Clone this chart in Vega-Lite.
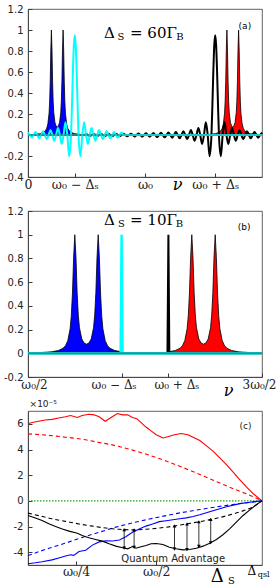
{
"$schema": "https://vega.github.io/schema/vega-lite/v6.json",
"padding": {"left": 3, "top": 3, "right": 0, "bottom": 0},
"bounds": "flush",
"spacing": 34,
"config": {
 "view": {"stroke": "#3a3a3a", "strokeWidth": 0.8},
 "axis": {"domainColor": "#3a3a3a", "domainWidth": 0.8, "tickColor": "#3a3a3a", "tickSize": -4, "labelColor": "#222", "labelFont": "DejaVu Sans", "labelFontSize": 10, "grid": false, "labelFlush": false, "labelOverlap": false, "labelBound": false},
 "axisY": {"labelPadding": 9},
 "axisX": {"labelPadding": 15.5, "labelBaseline": "alphabetic", "labelFont": "DejaVu Serif", "labelFontSize": 12.5}
},
"vconcat": [
{
 "width": 234, "height": 168,
 "encoding": {
  "x": {"field": "x", "type": "quantitative", "scale": {"domain": [0, 2], "nice": false},
   "axis": {"values": [0, 0.4, 1, 1.6], "labelExpr": "datum.value == 0 ? '0' : datum.value == 0.4 ? 'ω₀ − Δₛ' : datum.value == 1 ? 'ω₀' : 'ω₀ + Δₛ'",
    "title": "ν", "titleFont": "DejaVu Serif", "titleFontStyle": "italic", "titleFontWeight": "normal", "titleFontSize": 16, "titleX": 149, "titleY": 12, "titleBaseline": "alphabetic", "titleAlign": "center", "titleAnchor": null}},
  "y": {"field": "y", "type": "quantitative", "scale": {"domain": [-0.4, 1.2], "nice": false},
   "axis": {"values": [-0.4, -0.2, 0, 0.2, 0.4, 0.6, 0.8, 1, 1.2], "format": "~g", "labelExpr": "replace(datum.label, '−', '-')", "title": null}}
 },
 "layer": [
  {"data": {"values": [
   {"x":0.05,"y":0.006},{"x":0.1,"y":0.012},{"x":0.13,"y":0.024},{"x":0.15,"y":0.043},{"x":0.16,"y":0.064},{"x":0.17,"y":0.106},{"x":0.18,"y":0.207},{"x":0.185,"y":0.315},{"x":0.19,"y":0.508},{"x":0.195,"y":0.809},{"x":0.2,"y":1.0},{"x":0.205,"y":0.811},{"x":0.21,"y":0.512},{"x":0.215,"y":0.321},{"x":0.22,"y":0.215},{"x":0.23,"y":0.12},{"x":0.24,"y":0.086},{"x":0.25,"y":0.077},{"x":0.26,"y":0.086},{"x":0.27,"y":0.12},{"x":0.28,"y":0.215},{"x":0.285,"y":0.321},{"x":0.29,"y":0.512},{"x":0.295,"y":0.811},{"x":0.3,"y":1.0},{"x":0.305,"y":0.809},{"x":0.31,"y":0.508},{"x":0.315,"y":0.315},{"x":0.32,"y":0.207},{"x":0.33,"y":0.106},{"x":0.34,"y":0.064},{"x":0.35,"y":0.043},{"x":0.37,"y":0.024},{"x":0.4,"y":0.012},{"x":0.45,"y":0.006}]},
   "mark": {"type": "area", "color": "#0000ff", "opacity": 1, "line": {"color": "black", "strokeWidth": 0.8}}},
  {"data": {"values": [
   {"x":1.55,"y":0.006},{"x":1.6,"y":0.012},{"x":1.63,"y":0.024},{"x":1.65,"y":0.043},{"x":1.66,"y":0.064},{"x":1.67,"y":0.106},{"x":1.68,"y":0.207},{"x":1.685,"y":0.315},{"x":1.69,"y":0.508},{"x":1.695,"y":0.809},{"x":1.7,"y":1.0},{"x":1.705,"y":0.811},{"x":1.71,"y":0.512},{"x":1.715,"y":0.321},{"x":1.72,"y":0.215},{"x":1.73,"y":0.12},{"x":1.74,"y":0.086},{"x":1.75,"y":0.077},{"x":1.76,"y":0.086},{"x":1.77,"y":0.12},{"x":1.78,"y":0.215},{"x":1.785,"y":0.321},{"x":1.79,"y":0.512},{"x":1.795,"y":0.811},{"x":1.8,"y":1.0},{"x":1.805,"y":0.809},{"x":1.81,"y":0.508},{"x":1.815,"y":0.315},{"x":1.82,"y":0.207},{"x":1.83,"y":0.106},{"x":1.84,"y":0.064},{"x":1.85,"y":0.043},{"x":1.87,"y":0.024},{"x":1.9,"y":0.012},{"x":1.95,"y":0.006},{"x":2.0,"y":0.004}]},
   "mark": {"type": "area", "color": "#ff0000", "opacity": 1, "line": {"color": "black", "strokeWidth": 0.8}}},
  {"data": {"values": [
   {"x":0,"y":0},{"x":0.48,"y":0},
   {"x":0.496,"y":0.009},{"x":0.512,"y":0},{"x":0.528,"y":-0.009},{"x":0.544,"y":0},{"x":0.56,"y":0.009},{"x":0.576,"y":0},{"x":0.592,"y":-0.01},{"x":0.608,"y":0},{"x":0.624,"y":0.01},{"x":0.64,"y":0},{"x":0.656,"y":-0.01},{"x":0.672,"y":0},{"x":0.688,"y":0.011},{"x":0.704,"y":0},{"x":0.72,"y":-0.011},{"x":0.736,"y":0},{"x":0.752,"y":0.011},{"x":0.768,"y":0},{"x":0.784,"y":-0.012},{"x":0.8,"y":0},{"x":0.816,"y":0.012},{"x":0.832,"y":0},{"x":0.848,"y":-0.013},{"x":0.864,"y":0},{"x":0.88,"y":0.013},{"x":0.896,"y":0},{"x":0.912,"y":-0.014},{"x":0.928,"y":0},{"x":0.944,"y":0.015},{"x":0.96,"y":0},{"x":0.976,"y":-0.016},{"x":0.992,"y":0},{"x":1.008,"y":0.016},{"x":1.024,"y":0},{"x":1.04,"y":-0.017},{"x":1.056,"y":0},{"x":1.072,"y":0.018},{"x":1.088,"y":0},{"x":1.104,"y":-0.02},{"x":1.12,"y":0},{"x":1.136,"y":0.021},{"x":1.152,"y":0},{"x":1.168,"y":-0.022},{"x":1.184,"y":0},{"x":1.2,"y":0.024},{"x":1.216,"y":0},{"x":1.232,"y":-0.026},{"x":1.248,"y":0},{"x":1.264,"y":0.029},{"x":1.28,"y":0},{"x":1.296,"y":-0.032},{"x":1.312,"y":0},{"x":1.328,"y":0.036},{"x":1.344,"y":0},{"x":1.36,"y":-0.04},{"x":1.376,"y":0},{"x":1.392,"y":0.047},{"x":1.408,"y":0},{"x":1.424,"y":-0.055},{"x":1.44,"y":0},{"x":1.456,"y":0.067},{"x":1.472,"y":0},{"x":1.488,"y":-0.086},{"x":1.504,"y":0},{"x":1.52,"y":0.121},{"x":1.536,"y":0},{"x":1.552,"y":-0.202},{"x":1.568,"y":0},{"x":1.576,"y":0.285},{"x":1.584,"y":0.605},{"x":1.592,"y":0.855},{"x":1.6,"y":0.95},{"x":1.608,"y":0.855},{"x":1.616,"y":0.605},{"x":1.624,"y":0.285},{"x":1.632,"y":0},{"x":1.648,"y":-0.202},{"x":1.664,"y":0},{"x":1.68,"y":0.121},{"x":1.696,"y":0},{"x":1.712,"y":-0.086},{"x":1.728,"y":0},{"x":1.744,"y":0.067},{"x":1.76,"y":0},{"x":1.776,"y":-0.055},{"x":1.792,"y":0},{"x":1.808,"y":0.047},{"x":1.824,"y":0},{"x":1.84,"y":-0.04},{"x":1.856,"y":0},{"x":1.872,"y":0.036},{"x":1.888,"y":0},{"x":1.904,"y":-0.032},{"x":1.92,"y":0},{"x":1.936,"y":0.029},{"x":1.952,"y":0},{"x":1.968,"y":-0.026},{"x":1.984,"y":0},{"x":2.0,"y":0.024}]},
   "mark": {"type": "line", "color": "black", "strokeWidth": 2, "interpolate": "monotone"}},
  {"data": {"values": [
   {"x":0.0,"y":0.024},{"x":0.016,"y":0},{"x":0.032,"y":-0.026},{"x":0.048,"y":0},{"x":0.064,"y":0.029},{"x":0.08,"y":0},{"x":0.096,"y":-0.032},{"x":0.112,"y":0},{"x":0.128,"y":0.036},{"x":0.144,"y":0},{"x":0.16,"y":-0.04},{"x":0.176,"y":0},{"x":0.192,"y":0.047},{"x":0.208,"y":0},{"x":0.224,"y":-0.055},{"x":0.24,"y":0},{"x":0.256,"y":0.067},{"x":0.272,"y":0},{"x":0.288,"y":-0.086},{"x":0.304,"y":0},{"x":0.32,"y":0.121},{"x":0.336,"y":0},{"x":0.352,"y":-0.202},{"x":0.368,"y":0},{"x":0.376,"y":0.285},{"x":0.384,"y":0.605},{"x":0.392,"y":0.855},{"x":0.4,"y":0.95},{"x":0.408,"y":0.855},{"x":0.416,"y":0.605},{"x":0.424,"y":0.285},{"x":0.432,"y":0},{"x":0.448,"y":-0.202},{"x":0.464,"y":0},{"x":0.48,"y":0.121},{"x":0.496,"y":0},{"x":0.512,"y":-0.086},{"x":0.528,"y":0},{"x":0.544,"y":0.067},{"x":0.56,"y":0},{"x":0.576,"y":-0.055},{"x":0.592,"y":0},{"x":0.608,"y":0.047},{"x":0.624,"y":0},{"x":0.64,"y":-0.04},{"x":0.656,"y":0},{"x":0.672,"y":0.036},{"x":0.688,"y":0},{"x":0.704,"y":-0.032},{"x":0.72,"y":0},{"x":0.736,"y":0.029},{"x":0.752,"y":0},{"x":0.768,"y":-0.026},{"x":0.784,"y":0},{"x":0.8,"y":0.024},{"x":0.816,"y":0},{"x":2.0,"y":0}]},
   "mark": {"type": "line", "color": "#00ffff", "strokeWidth": 2, "interpolate": "monotone"}},
  {"data": {"values": [{"x": 0, "x2": 2, "y": 0}]},
   "mark": {"type": "rule", "color": "#26b0b0", "strokeWidth": 1.6},
   "encoding": {"x2": {"field": "x2"}}},
  {"data": {"values": [{"x": 0.65, "y": 0.921, "t": "Δ"}, {"x": 0.872, "y": 0.921, "t": "= 60Γ"}]},
   "mark": {"type": "text", "font": "DejaVu Serif", "fontSize": 15, "align": "left", "baseline": "alphabetic", "color": "black"},
   "encoding": {"text": {"field": "t"}}},
  {"data": {"values": [{"x": 0.764, "y": 0.905, "t": "S"}, {"x": 1.268, "y": 0.905, "t": "B"}]},
   "mark": {"type": "text", "font": "DejaVu Serif", "fontSize": 10, "align": "left", "baseline": "alphabetic", "color": "black"},
   "encoding": {"text": {"field": "t"}}},
  {"data": {"values": [{"x": 1.8, "y": 1.01, "t": "(a)"}]},
   "mark": {"type": "text", "font": "DejaVu Sans", "fontSize": 9, "align": "left", "baseline": "alphabetic", "color": "black"},
   "encoding": {"text": {"field": "t"}}}
 ]
},
{
 "width": 234, "height": 166,
 "encoding": {
  "x": {"field": "x", "type": "quantitative", "scale": {"domain": [0.5, 1.5], "nice": false},
   "axis": {"values": [0.5, 0.9, 1.1, 1.5], "labelExpr": "datum.value == 0.5 ? 'ω₀/2' : datum.value == 0.9 ? 'ω₀ − Δₛ' : datum.value == 1.1 ? 'ω₀ + Δₛ' : '3ω₀/2'",
    "labelFontSize": 12,
    "labelOffset": {"condition": [{"test": "datum.value == 0.9", "value": -8}, {"test": "datum.value == 1.1", "value": 8}, {"test": "datum.value == 0.5", "value": 6}, {"test": "datum.value == 1.5", "value": -3}], "value": 0},
    "title": "ν", "titleFont": "DejaVu Serif", "titleFontStyle": "italic", "titleFontWeight": "normal", "titleFontSize": 16, "titleX": 200, "titleY": 18, "titleBaseline": "alphabetic", "titleAlign": "center", "titleAnchor": null}},
  "y": {"field": "y", "type": "quantitative", "scale": {"domain": [-0.2, 1.2], "nice": false},
   "axis": {"values": [-0.2, 0, 0.2, 0.4, 0.6, 0.8, 1, 1.2], "format": "~g", "labelExpr": "replace(datum.label, '−', '-')", "title": null}}
 },
 "layer": [
  {"data": {"values": [
   {"x":0.5,"y":0.004},{"x":0.55,"y":0.006},{"x":0.6,"y":0.012},{"x":0.63,"y":0.024},{"x":0.65,"y":0.043},{"x":0.66,"y":0.064},{"x":0.67,"y":0.106},{"x":0.68,"y":0.207},{"x":0.685,"y":0.315},{"x":0.69,"y":0.508},{"x":0.695,"y":0.809},{"x":0.7,"y":1.0},{"x":0.705,"y":0.811},{"x":0.71,"y":0.512},{"x":0.715,"y":0.321},{"x":0.72,"y":0.215},{"x":0.73,"y":0.12},{"x":0.74,"y":0.086},{"x":0.75,"y":0.077},{"x":0.76,"y":0.086},{"x":0.77,"y":0.12},{"x":0.78,"y":0.215},{"x":0.785,"y":0.321},{"x":0.79,"y":0.512},{"x":0.795,"y":0.811},{"x":0.8,"y":1.0},{"x":0.805,"y":0.809},{"x":0.81,"y":0.508},{"x":0.815,"y":0.315},{"x":0.82,"y":0.207},{"x":0.83,"y":0.106},{"x":0.84,"y":0.064},{"x":0.85,"y":0.043},{"x":0.87,"y":0.024},{"x":0.9,"y":0.012}]},
   "mark": {"type": "area", "color": "#0000ff", "opacity": 1, "line": {"color": "black", "strokeWidth": 0.8}}},
  {"data": {"values": [
   {"x":1.1,"y":0.012},{"x":1.13,"y":0.024},{"x":1.15,"y":0.043},{"x":1.16,"y":0.064},{"x":1.17,"y":0.106},{"x":1.18,"y":0.207},{"x":1.185,"y":0.315},{"x":1.19,"y":0.508},{"x":1.195,"y":0.809},{"x":1.2,"y":1.0},{"x":1.205,"y":0.811},{"x":1.21,"y":0.512},{"x":1.215,"y":0.321},{"x":1.22,"y":0.215},{"x":1.23,"y":0.12},{"x":1.24,"y":0.086},{"x":1.25,"y":0.077},{"x":1.26,"y":0.086},{"x":1.27,"y":0.12},{"x":1.28,"y":0.215},{"x":1.285,"y":0.321},{"x":1.29,"y":0.512},{"x":1.295,"y":0.811},{"x":1.3,"y":1.0},{"x":1.305,"y":0.809},{"x":1.31,"y":0.508},{"x":1.315,"y":0.315},{"x":1.32,"y":0.207},{"x":1.33,"y":0.106},{"x":1.34,"y":0.064},{"x":1.35,"y":0.043},{"x":1.37,"y":0.024},{"x":1.4,"y":0.012},{"x":1.45,"y":0.006},{"x":1.5,"y":0.004}]},
   "mark": {"type": "area", "color": "#ff0000", "opacity": 1, "line": {"color": "black", "strokeWidth": 0.8}}},
  {"data": {"values": [{"x":0.5,"y":0},{"x":1.096,"y":0},{"x":1.1,"y":1.0},{"x":1.104,"y":0},{"x":1.5,"y":0}]},
   "mark": {"type": "line", "color": "black", "strokeWidth": 2}},
  {"data": {"values": [{"x":0.5,"y":0},{"x":0.896,"y":0},{"x":0.9,"y":1.0},{"x":0.904,"y":0},{"x":1.5,"y":0}]},
   "mark": {"type": "line", "color": "#00ffff", "strokeWidth": 2.5}},
  {"data": {"values": [{"x": 0.5, "x2": 1.5, "y": 0}]},
   "mark": {"type": "rule", "color": "#129a9a", "strokeWidth": 2},
   "encoding": {"x2": {"field": "x2"}}},
  {"data": {"values": [{"x": 0.825, "y": 1.082, "t": "Δ"}, {"x": 0.936, "y": 1.082, "t": "= 10Γ"}]},
   "mark": {"type": "text", "font": "DejaVu Serif", "fontSize": 15, "align": "left", "baseline": "alphabetic", "color": "black"},
   "encoding": {"text": {"field": "t"}}},
  {"data": {"values": [{"x": 0.885, "y": 1.061, "t": "S"}, {"x": 1.131, "y": 1.061, "t": "B"}]},
   "mark": {"type": "text", "font": "DejaVu Serif", "fontSize": 10, "align": "left", "baseline": "alphabetic", "color": "black"},
   "encoding": {"text": {"field": "t"}}},
  {"data": {"values": [{"x": 1.396, "y": 1.04, "t": "(b)"}]},
   "mark": {"type": "text", "font": "DejaVu Sans", "fontSize": 9, "align": "left", "baseline": "alphabetic", "color": "black"},
   "encoding": {"text": {"field": "t"}}}
 ]
},
{
 "width": 234, "height": 154,
 "encoding": {
  "x": {"field": "x", "type": "quantitative", "scale": {"domain": [0.1, 0.83], "nice": false},
   "axis": {"values": [0.25, 0.5], "labelExpr": "datum.value == 0.25 ? 'ω₀/4' : 'ω₀/2'", "labelPadding": 14.5, "title": null}},
  "y": {"field": "y", "type": "quantitative", "scale": {"domain": [-5, 7], "nice": false},
   "axis": {"values": [-4, -2, 0, 2, 4, 6], "format": "~g", "labelExpr": "replace(datum.label, '−', '-')", "title": null}}
 },
 "layer": [
  {"data": {"values": [{"x":0.1,"y":0},{"x":0.83,"y":0}]},
   "mark": {"type": "line", "color": "#22a022", "strokeWidth": 1.3, "strokeDash": [1.5, 1.5]}},
  {"data": {"values": [{"x":0.1,"y":5.22},{"x":0.165,"y":5.1},{"x":0.217,"y":4.96},{"x":0.269,"y":4.8},{"x":0.322,"y":4.55},{"x":0.374,"y":4.3},{"x":0.426,"y":3.95},{"x":0.479,"y":3.55},{"x":0.531,"y":3.1},{"x":0.583,"y":2.6},{"x":0.636,"y":2.05},{"x":0.688,"y":1.5},{"x":0.74,"y":0.95},{"x":0.793,"y":0.42},{"x":0.83,"y":0}]},
   "mark": {"type": "line", "color": "#ff0000", "strokeWidth": 1.1, "strokeDash": [4, 3], "interpolate": "monotone"}},
  {"data": {"values": [{"x":0.1,"y":6.0},{"x":0.113,"y":6.1},{"x":0.133,"y":6.2},{"x":0.154,"y":6.3},{"x":0.175,"y":6.35},{"x":0.196,"y":6.45},{"x":0.217,"y":6.55},{"x":0.233,"y":6.65},{"x":0.254,"y":6.5},{"x":0.269,"y":6.65},{"x":0.29,"y":6.75},{"x":0.306,"y":6.7},{"x":0.322,"y":6.55},{"x":0.341,"y":6.2},{"x":0.353,"y":6.4},{"x":0.369,"y":6.65},{"x":0.379,"y":6.8},{"x":0.395,"y":6.7},{"x":0.411,"y":6.7},{"x":0.426,"y":6.5},{"x":0.439,"y":6.4},{"x":0.453,"y":6.1},{"x":0.468,"y":5.75},{"x":0.484,"y":5.45},{"x":0.5,"y":5.15},{"x":0.521,"y":4.9},{"x":0.536,"y":5.0},{"x":0.557,"y":5.15},{"x":0.578,"y":5.25},{"x":0.599,"y":5.15},{"x":0.615,"y":4.95},{"x":0.636,"y":4.7},{"x":0.656,"y":4.3},{"x":0.677,"y":3.87},{"x":0.698,"y":3.35},{"x":0.719,"y":2.83},{"x":0.74,"y":2.23},{"x":0.761,"y":1.64},{"x":0.782,"y":1.06},{"x":0.803,"y":0.55},{"x":0.83,"y":0}]},
   "mark": {"type": "line", "color": "#ff0000", "strokeWidth": 1.1}},
  {"data": {"values": [{"x":0.1,"y":-4.26},{"x":0.165,"y":-3.7},{"x":0.217,"y":-3.3},{"x":0.269,"y":-2.85},{"x":0.322,"y":-2.45},{"x":0.374,"y":-2.05},{"x":0.426,"y":-1.72},{"x":0.479,"y":-1.42},{"x":0.531,"y":-1.15},{"x":0.583,"y":-0.9},{"x":0.636,"y":-0.68},{"x":0.688,"y":-0.47},{"x":0.74,"y":-0.28},{"x":0.793,"y":-0.12},{"x":0.83,"y":0}]},
   "mark": {"type": "line", "color": "#0000ff", "strokeWidth": 1.1, "strokeDash": [4, 3], "interpolate": "monotone"}},
  {"data": {"values": [{"x":0.1,"y":-4.9},{"x":0.123,"y":-4.83},{"x":0.144,"y":-4.75},{"x":0.175,"y":-4.6},{"x":0.196,"y":-4.45},{"x":0.217,"y":-4.3},{"x":0.233,"y":-4.2},{"x":0.243,"y":-4.25},{"x":0.259,"y":-3.95},{"x":0.28,"y":-3.85},{"x":0.301,"y":-3.45},{"x":0.322,"y":-3.2},{"x":0.343,"y":-3.12},{"x":0.364,"y":-3.13},{"x":0.385,"y":-3.05},{"x":0.405,"y":-2.8},{"x":0.426,"y":-2.45},{"x":0.447,"y":-2.2},{"x":0.468,"y":-1.97},{"x":0.489,"y":-1.8},{"x":0.51,"y":-1.62},{"x":0.531,"y":-1.55},{"x":0.552,"y":-1.48},{"x":0.573,"y":-1.4},{"x":0.594,"y":-1.33},{"x":0.615,"y":-1.22},{"x":0.636,"y":-1.08},{"x":0.677,"y":-0.78},{"x":0.719,"y":-0.46},{"x":0.761,"y":-0.22},{"x":0.803,"y":-0.07},{"x":0.83,"y":0}]},
   "mark": {"type": "line", "color": "#0000ff", "strokeWidth": 1.1}},
  {"data": {"values": [{"x":0.1,"y":-0.96},{"x":0.133,"y":-1.15},{"x":0.175,"y":-1.4},{"x":0.217,"y":-1.6},{"x":0.259,"y":-1.8},{"x":0.301,"y":-1.97},{"x":0.343,"y":-2.12},{"x":0.385,"y":-2.22},{"x":0.426,"y":-2.26},{"x":0.468,"y":-2.22},{"x":0.51,"y":-2.12},{"x":0.552,"y":-1.98},{"x":0.594,"y":-1.8},{"x":0.636,"y":-1.62},{"x":0.677,"y":-1.42},{"x":0.719,"y":-1.17},{"x":0.761,"y":-0.86},{"x":0.803,"y":-0.46},{"x":0.83,"y":0}]},
   "mark": {"type": "line", "color": "black", "strokeWidth": 1.1, "strokeDash": [4, 3], "interpolate": "monotone"}},
  {"data": {"values": [{"x":0.1,"y":-1.14},{"x":0.123,"y":-1.33},{"x":0.144,"y":-1.53},{"x":0.165,"y":-1.78},{"x":0.186,"y":-2.0},{"x":0.207,"y":-2.2},{"x":0.228,"y":-2.36},{"x":0.254,"y":-2.52},{"x":0.269,"y":-2.7},{"x":0.29,"y":-2.88},{"x":0.311,"y":-3.01},{"x":0.332,"y":-3.14},{"x":0.353,"y":-3.35},{"x":0.374,"y":-3.53},{"x":0.395,"y":-3.66},{"x":0.411,"y":-3.74},{"x":0.426,"y":-3.56},{"x":0.437,"y":-3.69},{"x":0.447,"y":-3.62},{"x":0.468,"y":-3.48},{"x":0.484,"y":-3.35},{"x":0.5,"y":-3.32},{"x":0.521,"y":-3.4},{"x":0.541,"y":-3.61},{"x":0.562,"y":-3.74},{"x":0.583,"y":-3.82},{"x":0.604,"y":-3.79},{"x":0.625,"y":-3.69},{"x":0.646,"y":-3.53},{"x":0.667,"y":-3.3},{"x":0.688,"y":-3.01},{"x":0.709,"y":-2.62},{"x":0.729,"y":-2.18},{"x":0.75,"y":-1.66},{"x":0.771,"y":-1.14},{"x":0.792,"y":-0.7},{"x":0.813,"y":-0.29},{"x":0.83,"y":0}]},
   "mark": {"type": "line", "color": "black", "strokeWidth": 1.1}},
  {"data": {"values": [{"x":0.4,"y":-2.24,"y2":-3.68},{"x":0.431,"y":-2.26,"y2":-3.63},{"x":0.557,"y":-1.96,"y2":-3.76},{"x":0.596,"y":-1.8,"y2":-3.8},{"x":0.633,"y":-1.63,"y2":-3.55},{"x":0.67,"y":-1.45,"y2":-3.27}]},
   "mark": {"type": "rule", "color": "black", "strokeWidth": 0.8},
   "encoding": {"y2": {"field": "y2"}}},
  {"data": {"values": [{"x":0.4,"y":-2.24},{"x":0.431,"y":-2.26},{"x":0.557,"y":-1.96},{"x":0.596,"y":-1.8},{"x":0.633,"y":-1.63},{"x":0.67,"y":-1.45}]},
   "mark": {"type": "point", "shape": "triangle-up", "filled": true, "color": "black", "size": 14, "opacity": 1}},
  {"data": {"values": [{"x":0.4,"y":-3.68},{"x":0.431,"y":-3.63},{"x":0.557,"y":-3.76},{"x":0.596,"y":-3.8},{"x":0.633,"y":-3.55},{"x":0.67,"y":-3.27}]},
   "mark": {"type": "point", "shape": "triangle-down", "filled": true, "color": "black", "size": 14, "opacity": 1}},
  {"data": {"values": [{"x": 0.553, "y": -4.75, "t": "Quantum Advantage"}]},
   "mark": {"type": "text", "font": "DejaVu Sans", "fontSize": 10, "align": "center", "baseline": "alphabetic", "color": "#222"},
   "encoding": {"text": {"field": "t"}}},
  {"data": {"values": [{"x": 0.76, "y": 5.6, "t": "(c)"}, {"x": 0.105, "y": 7.3, "t": "×10⁻⁵"}]},
   "mark": {"type": "text", "font": "DejaVu Sans", "fontSize": 9, "align": "left", "baseline": "alphabetic", "color": "#222"},
   "encoding": {"text": {"field": "t"}}},
  {"data": {"values": [{"x": 0.67, "y": -6.33, "t": "Δ"}]},
   "mark": {"type": "text", "font": "DejaVu Serif", "fontSize": 18, "align": "left", "baseline": "alphabetic", "color": "black"},
   "encoding": {"text": {"field": "t"}}},
  {"data": {"values": [{"x": 0.724, "y": -6.48, "t": "S"}]},
   "mark": {"type": "text", "font": "DejaVu Serif", "fontSize": 10, "align": "left", "baseline": "alphabetic", "color": "black"},
   "encoding": {"text": {"field": "t"}}},
  {"data": {"values": [{"x": 0.785, "y": -5.78, "t": "Δ"}]},
   "mark": {"type": "text", "font": "DejaVu Serif", "fontSize": 12, "align": "left", "baseline": "alphabetic", "color": "black"},
   "encoding": {"text": {"field": "t"}}},
  {"data": {"values": [{"x": 0.817, "y": -5.94, "t": "qsl"}]},
   "mark": {"type": "text", "font": "DejaVu Serif", "fontSize": 8, "align": "left", "baseline": "alphabetic", "color": "black"},
   "encoding": {"text": {"field": "t"}}}
 ]
}
]
}
